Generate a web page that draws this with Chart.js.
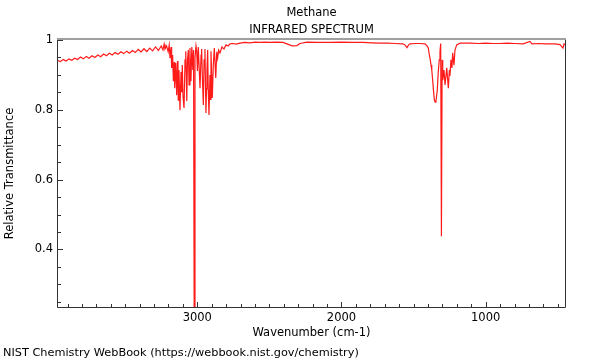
<!DOCTYPE html>
<html>
<head>
<title>Methane IR spectrum</title>
<style>
  body { margin: 0; background: #fff; }
</style>
</head>
<body>
<canvas id="IRChart" width="600" height="360"></canvas>
<script src="https://cdn.jsdelivr.net/npm/chart.js"></script>
<script>
// wavenumber (cm-1) and transmittance
const wavenumbers = [
  3966, 3950, 3930, 3910, 3890, 3870, 3850, 3830, 3810, 3790,
  3770, 3750, 3730, 3710, 3690, 3670, 3650, 3630, 3610, 3590,
  3570, 3550, 3530, 3510, 3490, 3470, 3450, 3430, 3410, 3390,
  3370, 3350, 3330, 3310, 3290, 3270, 3250, 3238, 3230, 3224,
  3213, 3202, 3195, 3189, 3182, 3179, 3177, 3171, 3166, 3160,
  3158, 3155, 3149, 3143, 3137, 3134, 3132, 3127, 3120, 3113,
  3108, 3104, 3099, 3092, 3085, 3080, 3076, 3073, 3068, 3062,
  3057, 3051, 3044, 3038, 3031, 3026, 3021, 3016, 3009, 3004,
  2999, 2993, 2981, 2974, 2970, 2964, 2958, 2953, 2947, 2940,
  2936, 2933, 2928, 2924, 2919, 2912, 2908, 2905, 2896, 2889,
  2882, 2872, 2865, 2859, 2852, 2843, 2829, 2815, 2801, 2787,
  2773, 2752, 2730, 2704, 2670, 2635, 2600, 2565, 2530, 2496,
  2450, 2406, 2378, 2343, 2309, 2288, 2239, 2160, 2080, 2000,
  1920, 1851, 1790, 1733, 1680, 1629, 1574, 1560, 1546, 1535,
  1525, 1490, 1456, 1421, 1407, 1398, 1391, 1386, 1379, 1374,
  1369, 1363, 1356, 1350, 1345, 1336, 1329, 1322, 1317, 1312,
  1307, 1302, 1298, 1289, 1282, 1270, 1259, 1252, 1248, 1241,
  1234, 1229, 1220, 1213, 1201, 1178, 1109, 1050, 1000, 950,
  901, 850, 797, 740, 693, 679, 630, 589, 519, 485,
  464, 457, 450
];
const transmittance = [
  0.941, 0.938, 0.944, 0.940, 0.946, 0.942, 0.948, 0.944, 0.951, 0.946,
  0.953, 0.948, 0.955, 0.950, 0.957, 0.952, 0.960, 0.955, 0.962, 0.957,
  0.964, 0.959, 0.966, 0.961, 0.968, 0.962, 0.970, 0.964, 0.973, 0.966,
  0.975, 0.967, 0.977, 0.969, 0.980, 0.970, 0.983, 0.972, 0.988, 0.974,
  0.983, 0.966, 0.985, 0.948, 0.980, 0.935, 0.920, 0.957, 0.882, 0.937,
  0.900, 0.862, 0.934, 0.842, 0.940, 0.880, 0.828, 0.914, 0.799, 0.908,
  0.850, 0.928, 0.839, 0.805, 0.943, 0.968, 0.890, 0.825, 0.943, 0.971,
  0.871, 0.977, 0.882, 0.980, 0.914, 0.971, 0.120, 0.948, 0.983, 0.968,
  0.911, 0.980, 0.862, 0.957, 0.974, 0.885, 0.814, 0.943, 0.974, 0.791,
  0.860, 0.914, 0.971, 0.857, 0.785, 0.900, 0.830, 0.968, 0.834, 0.928,
  0.977, 0.891, 0.966, 0.948, 0.971, 0.963, 0.980, 0.974, 0.986, 0.983,
  0.989, 0.990, 0.988, 0.991, 0.993, 0.992, 0.994, 0.993, 0.994, 0.993,
  0.994, 0.993, 0.989, 0.983, 0.984, 0.990, 0.994, 0.993, 0.993, 0.994,
  0.993, 0.993, 0.992, 0.991, 0.991, 0.990, 0.989, 0.986, 0.978, 0.986,
  0.989, 0.990, 0.990, 0.989, 0.983, 0.977, 0.957, 0.948, 0.928, 0.914,
  0.891, 0.860, 0.828, 0.822, 0.825, 0.854, 0.908, 0.943, 0.966, 0.990,
  0.438, 0.943, 0.885, 0.914, 0.871, 0.920, 0.862, 0.914, 0.897, 0.943,
  0.920, 0.963, 0.928, 0.971, 0.986, 0.991, 0.991, 0.990, 0.991, 0.990,
  0.990, 0.991, 0.990, 0.989, 0.996, 0.989, 0.990, 0.989, 0.989, 0.987,
  0.977, 0.989, 0.986
];
const xTickValues = [3000, 2000, 1000];
const yTickValues = [0.4, 0.6, 0.8, 1];
const titleLines = ['Methane', 'INFRARED SPECTRUM'];
const footerText = 'NIST Chemistry WebBook (https://webbook.nist.gov/chemistry)';

const baseFont = { family: 'DejaVu Sans', size: 11.5, weight: 'normal' };

// small inward ticks, the frame and the footer line
const frameAndTicks = {
  id: 'frameAndTicks',
  afterDatasetsDraw(chart) {
    const ctx = chart.ctx;
    const a = chart.chartArea;
    const xs = chart.scales.x;
    const ys = chart.scales.y;
    ctx.save();
    ctx.strokeStyle = '#333';
    ctx.lineWidth = 1;
    ctx.beginPath();
    for (let v = 500; v <= 3900; v += 100) {
      const px = Math.round(xs.getPixelForValue(v)) + 0.5;
      const len = v % 1000 === 0 ? 5 : 3;
      ctx.moveTo(px, a.bottom);
      ctx.lineTo(px, a.bottom - len);
    }
    for (let i = 5; i <= 20; i++) {
      const v = i * 0.05;
      const py = Math.round(ys.getPixelForValue(v)) + 0.5;
      const len = i % 4 === 0 ? 5 : 3;
      ctx.moveTo(a.left, py);
      ctx.lineTo(a.left + len, py);
    }
    // left, bottom, right sides
    ctx.moveTo(a.left - 0.5, a.top);
    ctx.lineTo(a.left - 0.5, a.bottom + 0.5);
    ctx.lineTo(a.right + 0.5, a.bottom + 0.5);
    ctx.lineTo(a.right + 0.5, a.top);
    ctx.stroke();
    // top side is a lighter, thicker grey
    ctx.fillStyle = '#a0a0a0';
    ctx.fillRect(a.left - 1, a.top - 2, a.right - a.left + 2, 2);

    ctx.fillStyle = '#000';
    ctx.font = '11.3px "DejaVu Sans"';
    ctx.textAlign = 'left';
    ctx.textBaseline = 'middle';
    ctx.fillText(footerText, 3, 353);
    ctx.restore();
  }
};

const ctx = document.getElementById('IRChart');
new Chart(ctx, {
  type: 'line',
  data: {
    datasets: [{
      data: wavenumbers.map((w, i) => ({ x: w, y: transmittance[i] })),
      borderColor: '#ff1a1a',
      borderWidth: 1.2,
      pointRadius: 0,
      tension: 0,
      fill: false
    }]
  },
  options: {
    responsive: false,
    animation: false,
    layout: { padding: { left: 0, right: 35, top: 0, bottom: 0 } },
    plugins: {
      legend: { display: false },
      tooltip: { enabled: false },
      title: {
        display: true,
        text: titleLines,
        fullSize: false,
        color: '#000',
        font: { family: 'DejaVu Sans', size: 11.5, weight: 'normal', lineHeight: 1.478 },
        padding: { top: 5, bottom: 1 }
      }
    },
    scales: {
      x: {
        type: 'linear',
        reverse: true,
        min: 450,
        max: 3966,
        afterFit(s) { s.height = 53; },
        afterBuildTicks(s) { s.ticks = xTickValues.map(v => ({ value: v })); },
        grid: { display: false, drawTicks: false },
        border: { display: false },
        ticks: { padding: 4.4, color: '#000', font: baseFont, maxRotation: 0, autoSkip: false, callback: v => String(v) },
        title: { display: true, text: 'Wavenumber (cm-1)', color: '#000', font: baseFont, padding: { top: 0, bottom: 20.4 } }
      },
      y: {
        min: 0.235,
        max: 1,
        afterFit(s) { s.width = 58; },
        afterBuildTicks(s) { s.ticks = yTickValues.map(v => ({ value: v })); },
        grid: { display: false, drawTicks: false },
        border: { display: false },
        ticks: { padding: 5, color: '#000', font: baseFont, callback: v => String(v) },
        title: { display: true, text: 'Relative Transmittance', color: '#000', font: baseFont, padding: { top: 3.1, bottom: 0 } }
      }
    }
  },
  plugins: [frameAndTicks]
});
</script>
</body>
</html>
